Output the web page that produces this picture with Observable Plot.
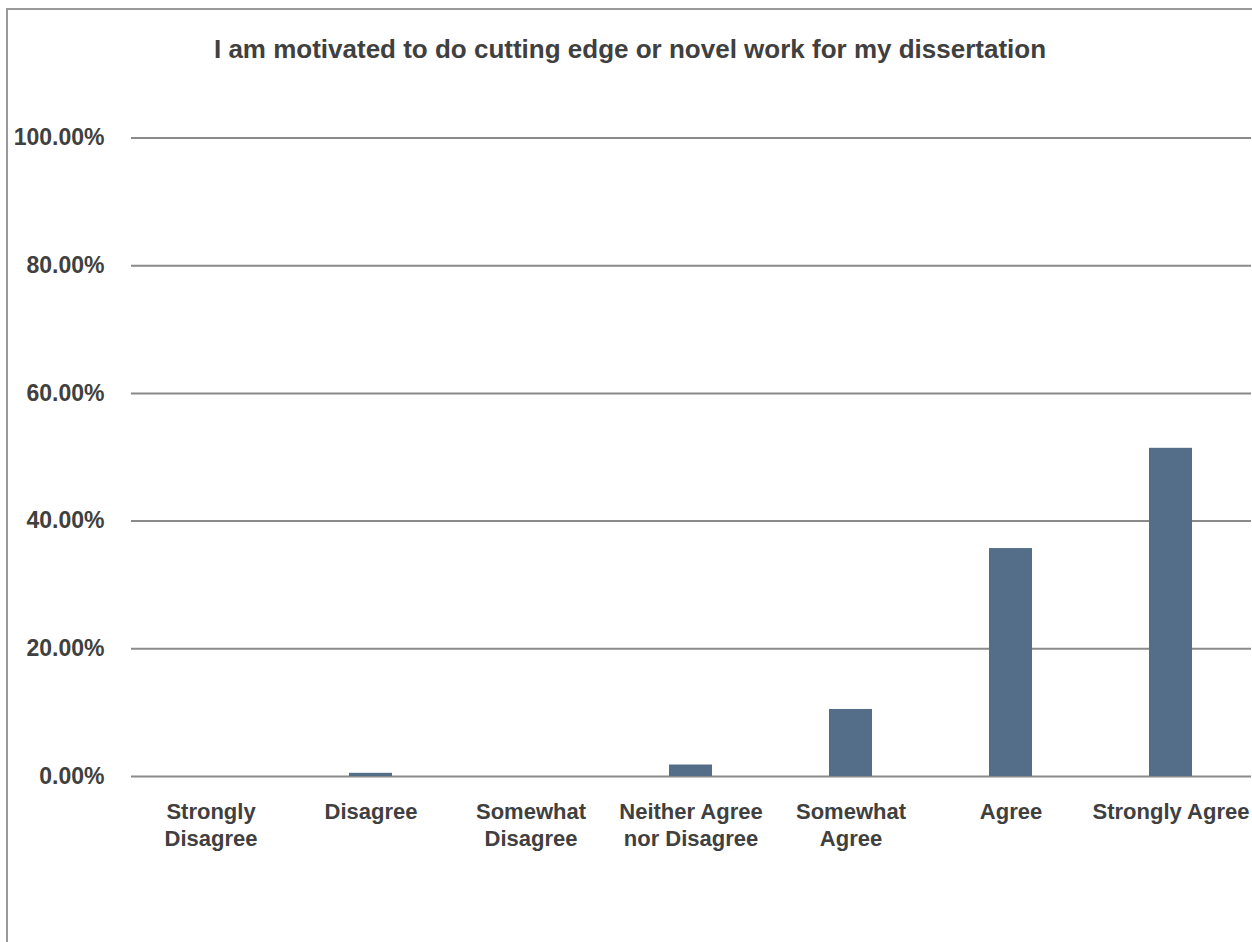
<!DOCTYPE html>
<html>
<head>
<meta charset="utf-8">
<script src="https://cdn.jsdelivr.net/npm/d3@7"></script>
<script src="https://cdn.jsdelivr.net/npm/@observablehq/plot@0.6"></script>
<style>
  html, body { margin: 0; padding: 0; background: #fff; }
  #page { position: relative; width: 1252px; height: 942px; overflow: hidden; background: #fff; }
  #frame { position: absolute; left: 6px; top: 8px; width: 1260px; height: 960px; border-top: 2px solid #999; border-left: 2px solid #999; box-sizing: border-box; }
  #title { position: absolute; left: 8px; top: 34px; width: 1244px; text-align: center; font-family: "Liberation Sans", Arial, sans-serif; font-weight: bold; font-size: 26px; line-height: 30px; color: #404040; }
  #chart { position: absolute; left: 0; top: 90px; }
</style>
</head>
<body>
<div id="page">
  <div id="frame"></div>
  <div id="title">I am motivated to do cutting edge or novel work for my dissertation</div>
  <div id="chart"></div>
</div>
<script>
const categories = ["Strongly Disagree", "Disagree", "Somewhat Disagree", "Neither Agree nor Disagree", "Somewhat Agree", "Agree", "Strongly Agree"];
const values = [0, 0.5, 0, 1.8, 10.5, 35.7, 51.4];
const xTickLabels = ["Strongly\nDisagree", "Disagree", "Somewhat\nDisagree", "Neither Agree\nnor Disagree", "Somewhat\nAgree", "Agree", "Strongly Agree"];
const yTicks = [0, 20, 40, 60, 80, 100];

const data = categories.map((c, i) => ({category: c, value: values[i]}));

const chart = Plot.plot({
  width: 1252,
  height: 852,
  marginLeft: 131,
  marginRight: 1,
  marginTop: 47.5,
  marginBottom: 166,
  style: {fontFamily: "'Liberation Sans', Arial, sans-serif", fontWeight: "bold", color: "#404040", background: "transparent", overflow: "visible"},
  x: {domain: categories, paddingInner: 0.73, paddingOuter: 0.365, label: null},
  y: {domain: [0, 100], label: null},
  marks: [
    Plot.ruleY(yTicks, {stroke: "#8a8a8a", strokeWidth: 2}),
    Plot.barY(data, {x: "category", y: "value", fill: "#546e8a"}),
    Plot.axisY(yTicks, {tickSize: 0, tickPadding: 27, fontSize: 23, fill: "#404040", tickFormat: d => d.toFixed(2) + "%", label: null}),
    Plot.axisX({tickSize: 0, tickPadding: 24, fontSize: 22, lineHeight: 1.2, fill: "#404040", tickFormat: d => xTickLabels[categories.indexOf(d)], label: null})
  ]
});
document.getElementById("chart").appendChild(chart);
</script>
</body>
</html>
